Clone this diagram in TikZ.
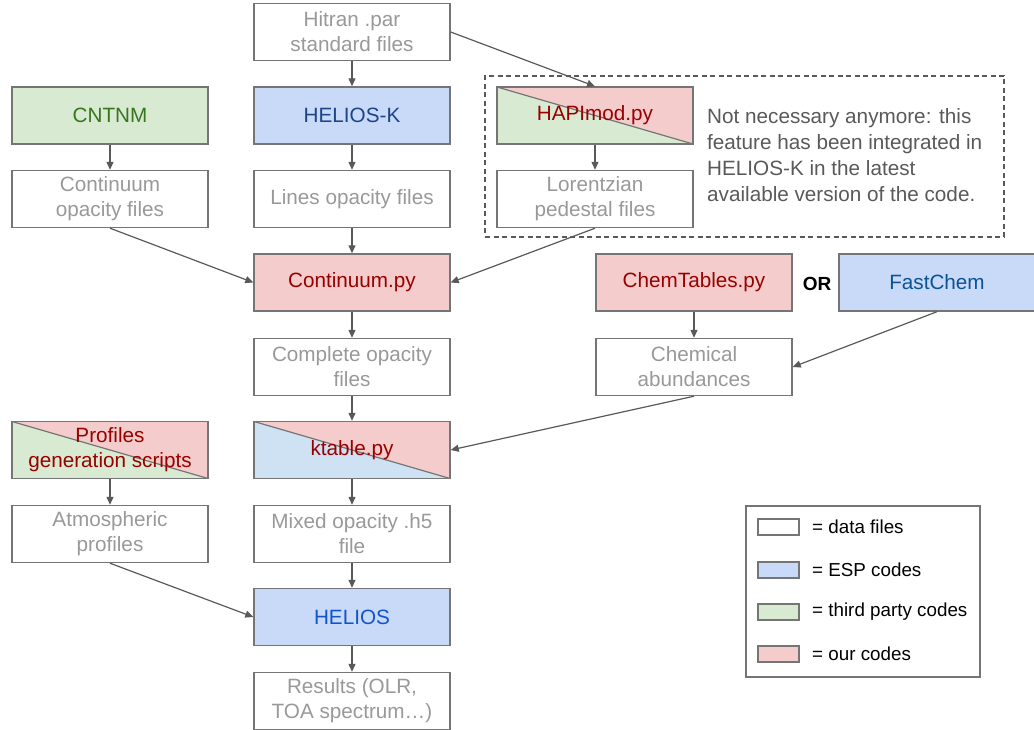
\documentclass[tikz,border=0pt]{standalone}
\usepackage{fontspec}
\setmainfont{Liberation Sans}
\usetikzlibrary{arrows.meta}
\definecolor{cblue}{HTML}{C9DAF8}
\definecolor{clblue}{HTML}{CFE2F3}
\definecolor{cgreen}{HTML}{D9EAD3}
\definecolor{cred}{HTML}{F4CCCC}
\definecolor{bordc}{HTML}{757575}
\definecolor{arrc}{HTML}{595959}
\definecolor{datac}{HTML}{999999}
\definecolor{tgreen}{HTML}{38761D}
\definecolor{tdblue}{HTML}{1C4587}
\definecolor{tblue}{HTML}{1155CC}
\definecolor{tmblue}{HTML}{0B5394}
\definecolor{tred}{HTML}{990000}
\definecolor{notec}{HTML}{595959}
\tikzset{
  box/.style={draw=bordc, line width=1.4pt, minimum width=196pt, minimum height=57pt,
    inner sep=0pt, align=center, font=\fontsize{20.7}{25}\selectfont},
  datafile/.style={box, fill=white, text=datac},
  espbox/.style={box, fill=cblue},
  thirdbox/.style={box, fill=cgreen},
  ourbox/.style={box, fill=cred},
  splitbox/.style 2 args={box, path picture={
      \fill[#1] (path picture bounding box.north west) -- (path picture bounding box.south west)
        -- (path picture bounding box.south east) -- cycle;
      \fill[#2] (path picture bounding box.north west) -- (path picture bounding box.north east)
        -- (path picture bounding box.south east) -- cycle;
      \draw[bordc, line width=1.2pt] (path picture bounding box.north west) -- (path picture bounding box.south east);}},
  conn/.style={draw=arrc, line width=1.2pt, -{Triangle[length=8pt,width=7pt]}},
  legbox/.style={draw=bordc, line width=1.4pt, minimum width=41pt, minimum height=16pt, inner sep=0pt},
  legtext/.style={anchor=west, inner sep=0pt, font=\fontsize{18.8}{22}\selectfont, text=black},
  dashbox/.style={draw=arrc, line width=1.1pt, dash pattern=on 5pt off 3.5pt, minimum width=519pt, minimum height=161pt, inner sep=0pt},
}
\begin{document}
\begin{tikzpicture}[x=1pt,y=-1pt]
\useasboundingbox (0,0) rectangle (1034,730);
% dashed group
\node[dashbox] (grp) at (744.5,156.5) {};
% row 1
\node[datafile] (hitran) at (352,32) {Hitran .par\\standard files};
% row 2
\node[thirdbox, text=tgreen] (cntnm) at (110,115.5) {CNTNM};
\node[espbox, text=tdblue] (heliosk) at (352,115.5) {HELIOS-K};
\node[splitbox={cgreen}{cred}, text=tred] (hapi) at (595,115.5) {HAPImod.py};
% note
\node[anchor=west, align=left, inner sep=0pt, text=notec, font=\fontsize{20.7}{26}\selectfont] (note) at (707,155)
  {Not necessary anymore: this\\feature has been integrated in\\HELIOS-K in the latest\\available version of the code.};
% row 3
\node[datafile] (contop) at (110,199) {Continuum\\opacity files};
\node[datafile] (lines) at (352,199) {Lines opacity files};
\node[datafile] (lor) at (595,199) {Lorentzian\\pedestal files};
% row 4
\node[ourbox, text=tred] (contpy) at (352,282.5) {Continuum.py};
\node[ourbox, text=tred] (chemtab) at (694,282.5) {ChemTables.py};
\node[font=\fontsize{19}{22}\selectfont\bfseries, inner sep=0pt] (or) at (817,284) {OR};
\node[espbox, text=tmblue] (fastchem) at (937,282.5) {FastChem};
% row 5
\node[datafile] (complete) at (352,367) {Complete opacity\\files};
\node[datafile] (chemab) at (694,367) {Chemical\\abundances};
% row 6
\node[splitbox={cgreen}{cred}, text=tred] (prof) at (110,450) {Profiles\\generation scripts};
\node[splitbox={clblue}{cred}, text=tred] (ktab) at (352,450) {ktable.py};
% row 7
\node[datafile] (atm) at (110,534) {Atmospheric\\profiles};
\node[datafile] (mixed) at (352,534) {Mixed opacity .h5\\file};
% row 8
\node[espbox, text=tblue] (helios) at (352,617) {HELIOS};
% row 9
\node[datafile] (res) at (352,701) {Results (OLR,\\TOA spectrum\dots)};
% legend
\node[draw=bordc, line width=1.4pt, minimum width=234pt, minimum height=171pt, inner sep=0pt] (leg) at (863,591.5) {};
\node[legbox, fill=white] (l1) at (778.5,527) {};
\node[legbox, fill=cblue] (l2) at (778.5,570) {};
\node[legbox, fill=cgreen] (l3) at (778.5,612) {};
\node[legbox, fill=cred] (l4) at (778.5,654) {};
\node[legtext] (t1) at (812,527) {= data files};
\node[legtext] (t2) at (812,570) {= ESP codes};
\node[legtext] (t3) at (812,612) {= third party codes};
\node[legtext] (t4) at (812,654) {= our codes};
% connectors
\draw[conn] (hitran) -- (heliosk);
\draw[conn] (hitran.east) -- (hapi.north);
\draw[conn] (cntnm) -- (contop);
\draw[conn] (heliosk) -- (lines);
\draw[conn] (hapi) -- (lor);
\draw[conn] (contop.south) -- (contpy.west);
\draw[conn] (lines) -- (contpy);
\draw[conn] (lor.south) -- (contpy.east);
\draw[conn] (contpy) -- (complete);
\draw[conn] (chemtab) -- (chemab);
\draw[conn] (fastchem.south) -- (chemab.east);
\draw[conn] (complete) -- (ktab);
\draw[conn] (chemab.south) -- (ktab.east);
\draw[conn] (prof) -- (atm);
\draw[conn] (ktab) -- (mixed);
\draw[conn] (atm.south) -- (helios.west);
\draw[conn] (mixed) -- (helios);
\draw[conn] (helios) -- (res);
\end{tikzpicture}
\end{document}
